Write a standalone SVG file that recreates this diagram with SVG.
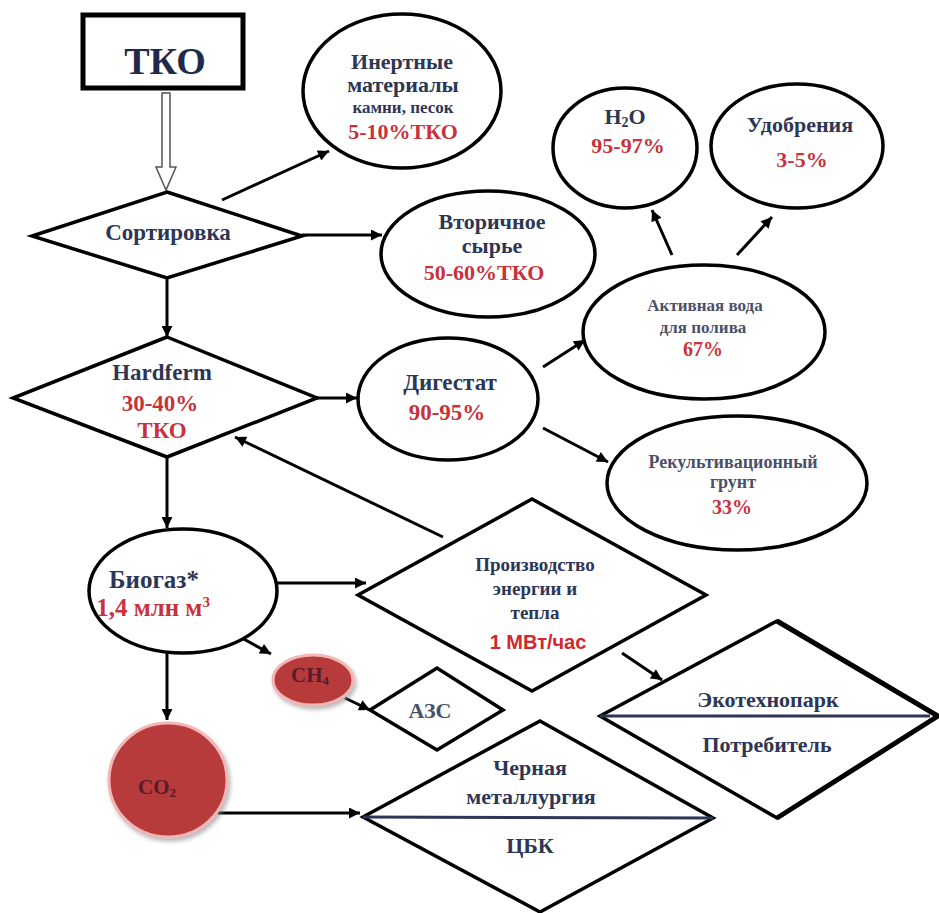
<svg xmlns="http://www.w3.org/2000/svg" width="939" height="913" viewBox="0 0 939 913">
<style>
.shape{fill:#fff;stroke:#000;stroke-width:3.5}
.t{font-family:'Liberation Serif','DejaVu Serif','Times New Roman',serif;font-weight:bold;font-size:22px;fill:#2d3654;text-anchor:middle}
.r{fill:#c8323c}
.s{font-size:17px}
.sans{font-family:'Liberation Sans','DejaVu Sans',Arial,sans-serif;font-weight:bold;font-size:20px;fill:#d0282e;text-anchor:middle}
.conn line{stroke:#000;stroke-width:3;marker-end:url(#ah)}
.div{stroke:#2d3654;stroke-width:3}
.gas{fill:#b73a3a;stroke:#f2b6b6;stroke-width:3}
.gt{font-family:'Liberation Serif','DejaVu Serif','Times New Roman',serif;font-weight:bold;font-size:21px;fill:#5a1a2a;text-anchor:middle}
</style>
<defs>
<marker id="ah" viewBox="0 0 10 10" refX="10" refY="5" markerWidth="14" markerHeight="11" markerUnits="userSpaceOnUse" orient="auto">
<path d="M0,0 L10,5 L0,10 Z" fill="#000"/>
</marker>
<filter id="sh" x="-30%" y="-30%" width="160%" height="160%">
<feDropShadow dx="2" dy="3" stdDeviation="2" flood-color="#888" flood-opacity="0.6"/>
</filter>
</defs>
<rect width="939" height="913" fill="#fff"/>

<g id="connectors" class="conn">
<path d="M162,93 L170,93 L170,167 L176,167 L166,190 L156,167 L162,167 Z" fill="#fff" stroke="#555" stroke-width="1.5"/>
<line x1="222" y1="200" x2="329" y2="151"/>
<line x1="302" y1="235" x2="382" y2="235"/>
<line x1="167" y1="278" x2="167" y2="337"/>
<line x1="317" y1="398" x2="357" y2="398"/>
<line x1="543" y1="367" x2="585" y2="340"/>
<line x1="543" y1="428" x2="608" y2="462"/>
<line x1="672" y1="255" x2="652" y2="210"/>
<line x1="737" y1="255" x2="772" y2="217"/>
<line x1="167" y1="457" x2="167" y2="528"/>
<line x1="277" y1="583" x2="366" y2="583"/>
<line x1="443" y1="537" x2="235" y2="437"/>
<line x1="622" y1="653" x2="662" y2="680"/>
<line x1="240" y1="637" x2="271" y2="654"/>
<line x1="345" y1="698" x2="370" y2="710"/>
<line x1="167" y1="653" x2="167" y2="720"/>
<line x1="218" y1="813" x2="360" y2="813"/>
</g>

<g id="tko">
<rect x="83" y="15" width="160" height="73" fill="#fff" stroke="#000" stroke-width="5"/>
<text class="t" x="165" y="74" style="font-size:38px;fill:#1f2a48">ТКО</text>
</g>

<g id="sortirovka">
<polygon class="shape" points="167,192 302,236 167,278 32,236"/>
<text class="t" x="168" y="240" style="font-size:23px">Сортировка</text>
</g>

<g id="inertnye">
<ellipse class="shape" cx="402" cy="91" rx="99" ry="77"/>
<text class="t" x="402" y="69">Инертные</text>
<text class="t" x="403" y="92">материалы</text>
<text class="t s" x="403" y="113">камни, песок</text>
<text class="t r" x="403" y="139">5-10%ТКО</text>
</g>

<g id="vtorichnoe">
<ellipse class="shape" cx="488" cy="254" rx="107" ry="63"/>
<text class="t" x="492" y="229">Вторичное</text>
<text class="t" x="492" y="253">сырье</text>
<text class="t r" x="484" y="280">50-60%ТКО</text>
</g>

<g id="hardferm">
<polygon class="shape" points="167,337 317,398 167,457 13,398"/>
<text class="t" x="162" y="380" style="font-size:23px">Hardferm</text>
<text class="t r" x="160" y="411" style="font-size:23px">30-40%</text>
<text class="t r" x="162" y="438" style="font-size:23px">ТКО</text>
</g>

<g id="digestat">
<ellipse class="shape" cx="448" cy="399" rx="90" ry="61"/>
<text class="t" x="450" y="390" style="font-size:23px">Дигестат</text>
<text class="t r" x="447" y="420" style="font-size:23px">90-95%</text>
</g>

<g id="aktivnaya">
<ellipse class="shape" cx="704" cy="332" rx="121" ry="67"/>
<text class="t s" x="705" y="311" style="fill:#4a5068">Активная вода</text>
<text class="t s" x="703" y="333" style="fill:#4a5068">для полива</text>
<text class="t r" x="703" y="356" style="font-size:20px">67%</text>
</g>

<g id="h2o">
<ellipse class="shape" cx="625" cy="148" rx="72" ry="60"/>
<text class="t" x="625" y="124">H<tspan style="font-size:14px" dy="3">2</tspan><tspan dy="-3">O</tspan></text>
<text class="t r" x="628" y="153">95-97%</text>
</g>

<g id="udobreniya">
<ellipse class="shape" cx="797" cy="146" rx="86" ry="62"/>
<text class="t" x="800" y="132">Удобрения</text>
<text class="t r" x="802" y="167">3-5%</text>
</g>

<g id="rekultivacionny">
<ellipse class="shape" cx="737" cy="483" rx="130" ry="67"/>
<text class="t" x="733" y="468" style="font-size:18px;fill:#4a5068">Рекультивационный</text>
<text class="t" x="733" y="488" style="font-size:18px;fill:#4a5068">грунт</text>
<text class="t r" x="732" y="514" style="font-size:20px">33%</text>
</g>

<g id="biogaz">
<ellipse class="shape" cx="183" cy="591" rx="94" ry="62"/>
<text class="t" x="154" y="588" style="font-size:25px">Биогаз*</text>
<text class="t r" x="153" y="616" style="font-size:25px">1,4 млн м<tspan style="font-size:15px" dy="-9">3</tspan></text>
</g>

<g id="proizvodstvo">
<polygon class="shape" points="532,499 706,595 532,691 358,595"/>
<text class="t" x="535" y="571" style="font-size:19px">Производство</text>
<text class="t" x="535" y="595" style="font-size:19px">энергии и</text>
<text class="t" x="535" y="619" style="font-size:19px">тепла</text>
<text class="sans" x="538" y="649">1 МВт/час</text>
</g>

<g id="ekotehnopark">
<polygon class="shape" points="777,621 938,716 777,818 600,716"/>
<polyline points="777,621 938,716 777,818" fill="none" stroke="#000" stroke-width="5" stroke-linejoin="miter"/>
<line class="div" x1="600" y1="716" x2="930" y2="716"/>
<text class="t" x="768" y="707">Экотехнопарк</text>
<text class="t" x="767" y="752">Потребитель</text>
</g>

<g id="ch4">
<ellipse class="gas" cx="313" cy="680" rx="40" ry="25" filter="url(#sh)"/>
<text class="gt" x="310" y="682">CH<tspan style="font-size:13px" dy="3">4</tspan></text>
</g>

<g id="azs">
<polygon class="shape" points="370,710 437,668 503,710 437,750"/>
<text class="t" x="430" y="718" style="fill:#4a5068">АЗС</text>
</g>

<g id="co2">
<ellipse class="gas" cx="168" cy="780" rx="59" ry="57" filter="url(#sh)"/>
<text class="gt" x="157" y="794">CO<tspan style="font-size:13px" dy="3">2</tspan></text>
</g>

<g id="chernaya">
<polygon class="shape" points="540,721 713,818 540,912 363,817"/>
<line class="div" x1="363" y1="817" x2="713" y2="818"/>
<text class="t" x="530" y="775">Черная</text>
<text class="t" x="531" y="804">металлургия</text>
<text class="t" x="530" y="853">ЦБК</text>
</g>
</svg>
